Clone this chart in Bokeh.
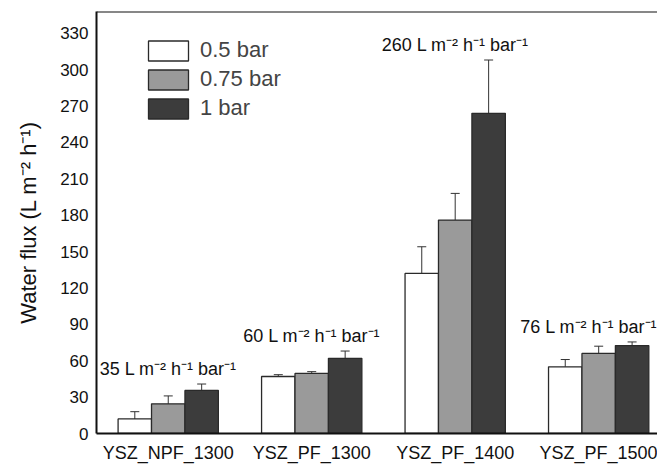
from bokeh.plotting import figure
from bokeh.models import ColumnDataSource, Whisker, FixedTicker, Range1d, Legend, LegendItem, Span, TeeHead
from bokeh.core.properties import value
from bokeh.embed import file_html
from bokeh.resources import INLINE

categories = ["YSZ_NPF_1300", "YSZ_PF_1300", "YSZ_PF_1400", "YSZ_PF_1500"]
pressures = ["0.5 bar", "0.75 bar", "1 bar"]
flux_05 = [12, 47, 132, 55]
err_05 = [6, 1.5, 22, 6]
flux_075 = [24.5, 49.5, 176, 66]
err_075 = [6.5, 1.5, 22, 6]
flux_1 = [35.5, 62, 264, 72.5]
err_1 = [5.3, 6, 44, 3]
permeance = ["35 L m\u207b\u00b2 h\u207b\u00b9 bar\u207b\u00b9",
             "60 L m\u207b\u00b2 h\u207b\u00b9 bar\u207b\u00b9",
             "260 L m\u207b\u00b2 h\u207b\u00b9 bar\u207b\u00b9",
             "76 L m\u207b\u00b2 h\u207b\u00b9 bar\u207b\u00b9"]
y_ticks = list(range(0, 331, 30))

FONT = "Liberation Sans"
colors = ["#ffffff", "#9a9a9a", "#3c3c3c"]
bar_w = 0.233
offsets = [-bar_w, 0, bar_w]

p = figure(width=657, height=465, output_backend="svg", toolbar_location=None,
           x_range=Range1d(-0.5, 3.41), y_range=Range1d(0, 348),
           min_border_left=96, min_border_right=0, min_border_top=11, min_border_bottom=31)
p.outline_line_color = None
p.grid.grid_line_color = None
p.background_fill_color = "white"

centers = list(range(len(categories)))
series = [(flux_05, err_05), (flux_075, err_075), (flux_1, err_1)]
items = []
for (vals, errs), off, col, name in zip(series, offsets, colors, pressures):
    src = ColumnDataSource(dict(
        x=[c + off for c in centers], top=vals,
        upper=[v + e for v, e in zip(vals, errs)],
        lower=[v - e for v, e in zip(vals, errs)]))
    r = p.vbar(x="x", top="top", width=bar_w, bottom=0, source=src,
               fill_color=col, line_color="#2a2a2a", line_width=1.3)
    items.append(LegendItem(label=name, renderers=[r]))
    w = Whisker(base="x", upper="upper", lower="lower", source=src,
                line_color="#333333", line_width=1,
                upper_head=TeeHead(size=9, line_color="#333333", line_width=1),
                lower_head=TeeHead(size=9, line_color="#333333", line_width=1))
    p.add_layout(w)

# permeance annotations above each group (last one nudged so it stays inside the page)
tops = [max(a + ea, b + eb, c + ec) for a, ea, b, eb, c, ec in
        zip(flux_05, err_05, flux_075, err_075, flux_1, err_1)]
x_nudge = [0] * (len(categories) - 1) + [-10]
ann = ColumnDataSource(dict(x=centers, y=[t + 12 for t in tops], text=permeance, dx=x_nudge))
p.text(x="x", y="y", text="text", source=ann, x_offset="dx", text_align="center",
       text_baseline="middle", text_font=value(FONT), text_font_size="18px",
       text_color="#111111")

legend = Legend(items=items, location=(47, 312), glyph_width=50, glyph_height=25,
                spacing=3, padding=0, margin=0, label_standoff=7,
                label_text_font=FONT, label_text_font_size="22px",
                border_line_color=None, background_fill_alpha=0)
p.add_layout(legend)

p.add_layout(Span(location=348, dimension="width", line_color="#111111", line_width=2))

p.yaxis.ticker = FixedTicker(ticks=y_ticks)
p.yaxis.axis_label = "Water flux (L m\u207b\u00b2 h\u207b\u00b9)"
p.yaxis.axis_label_text_font = FONT
p.yaxis.axis_label_text_font_style = "normal"
p.yaxis.axis_label_text_font_size = "22px"
p.yaxis.axis_label_standoff = 16
p.yaxis.major_label_text_font = FONT
p.yaxis.major_label_text_font_size = "17px"
p.yaxis.major_label_standoff = 8

p.xaxis.ticker = FixedTicker(ticks=centers)
p.xaxis.major_label_overrides = {i: c for i, c in enumerate(categories)}
p.xaxis.major_label_text_font = FONT
p.xaxis.major_label_text_font_size = "18px"
p.xaxis.major_label_standoff = 9

for ax in (p.xaxis, p.yaxis):
    ax.axis_line_width = 2
    ax.axis_line_color = "#111111"
    ax.major_tick_line_color = None
    ax.minor_tick_line_color = None
    ax.major_tick_out = 0
    ax.major_tick_in = 0
    ax.major_label_text_color = "#111111"
    ax.axis_label_text_color = "#111111"

open("out.html", "w").write(file_html(p, INLINE))
